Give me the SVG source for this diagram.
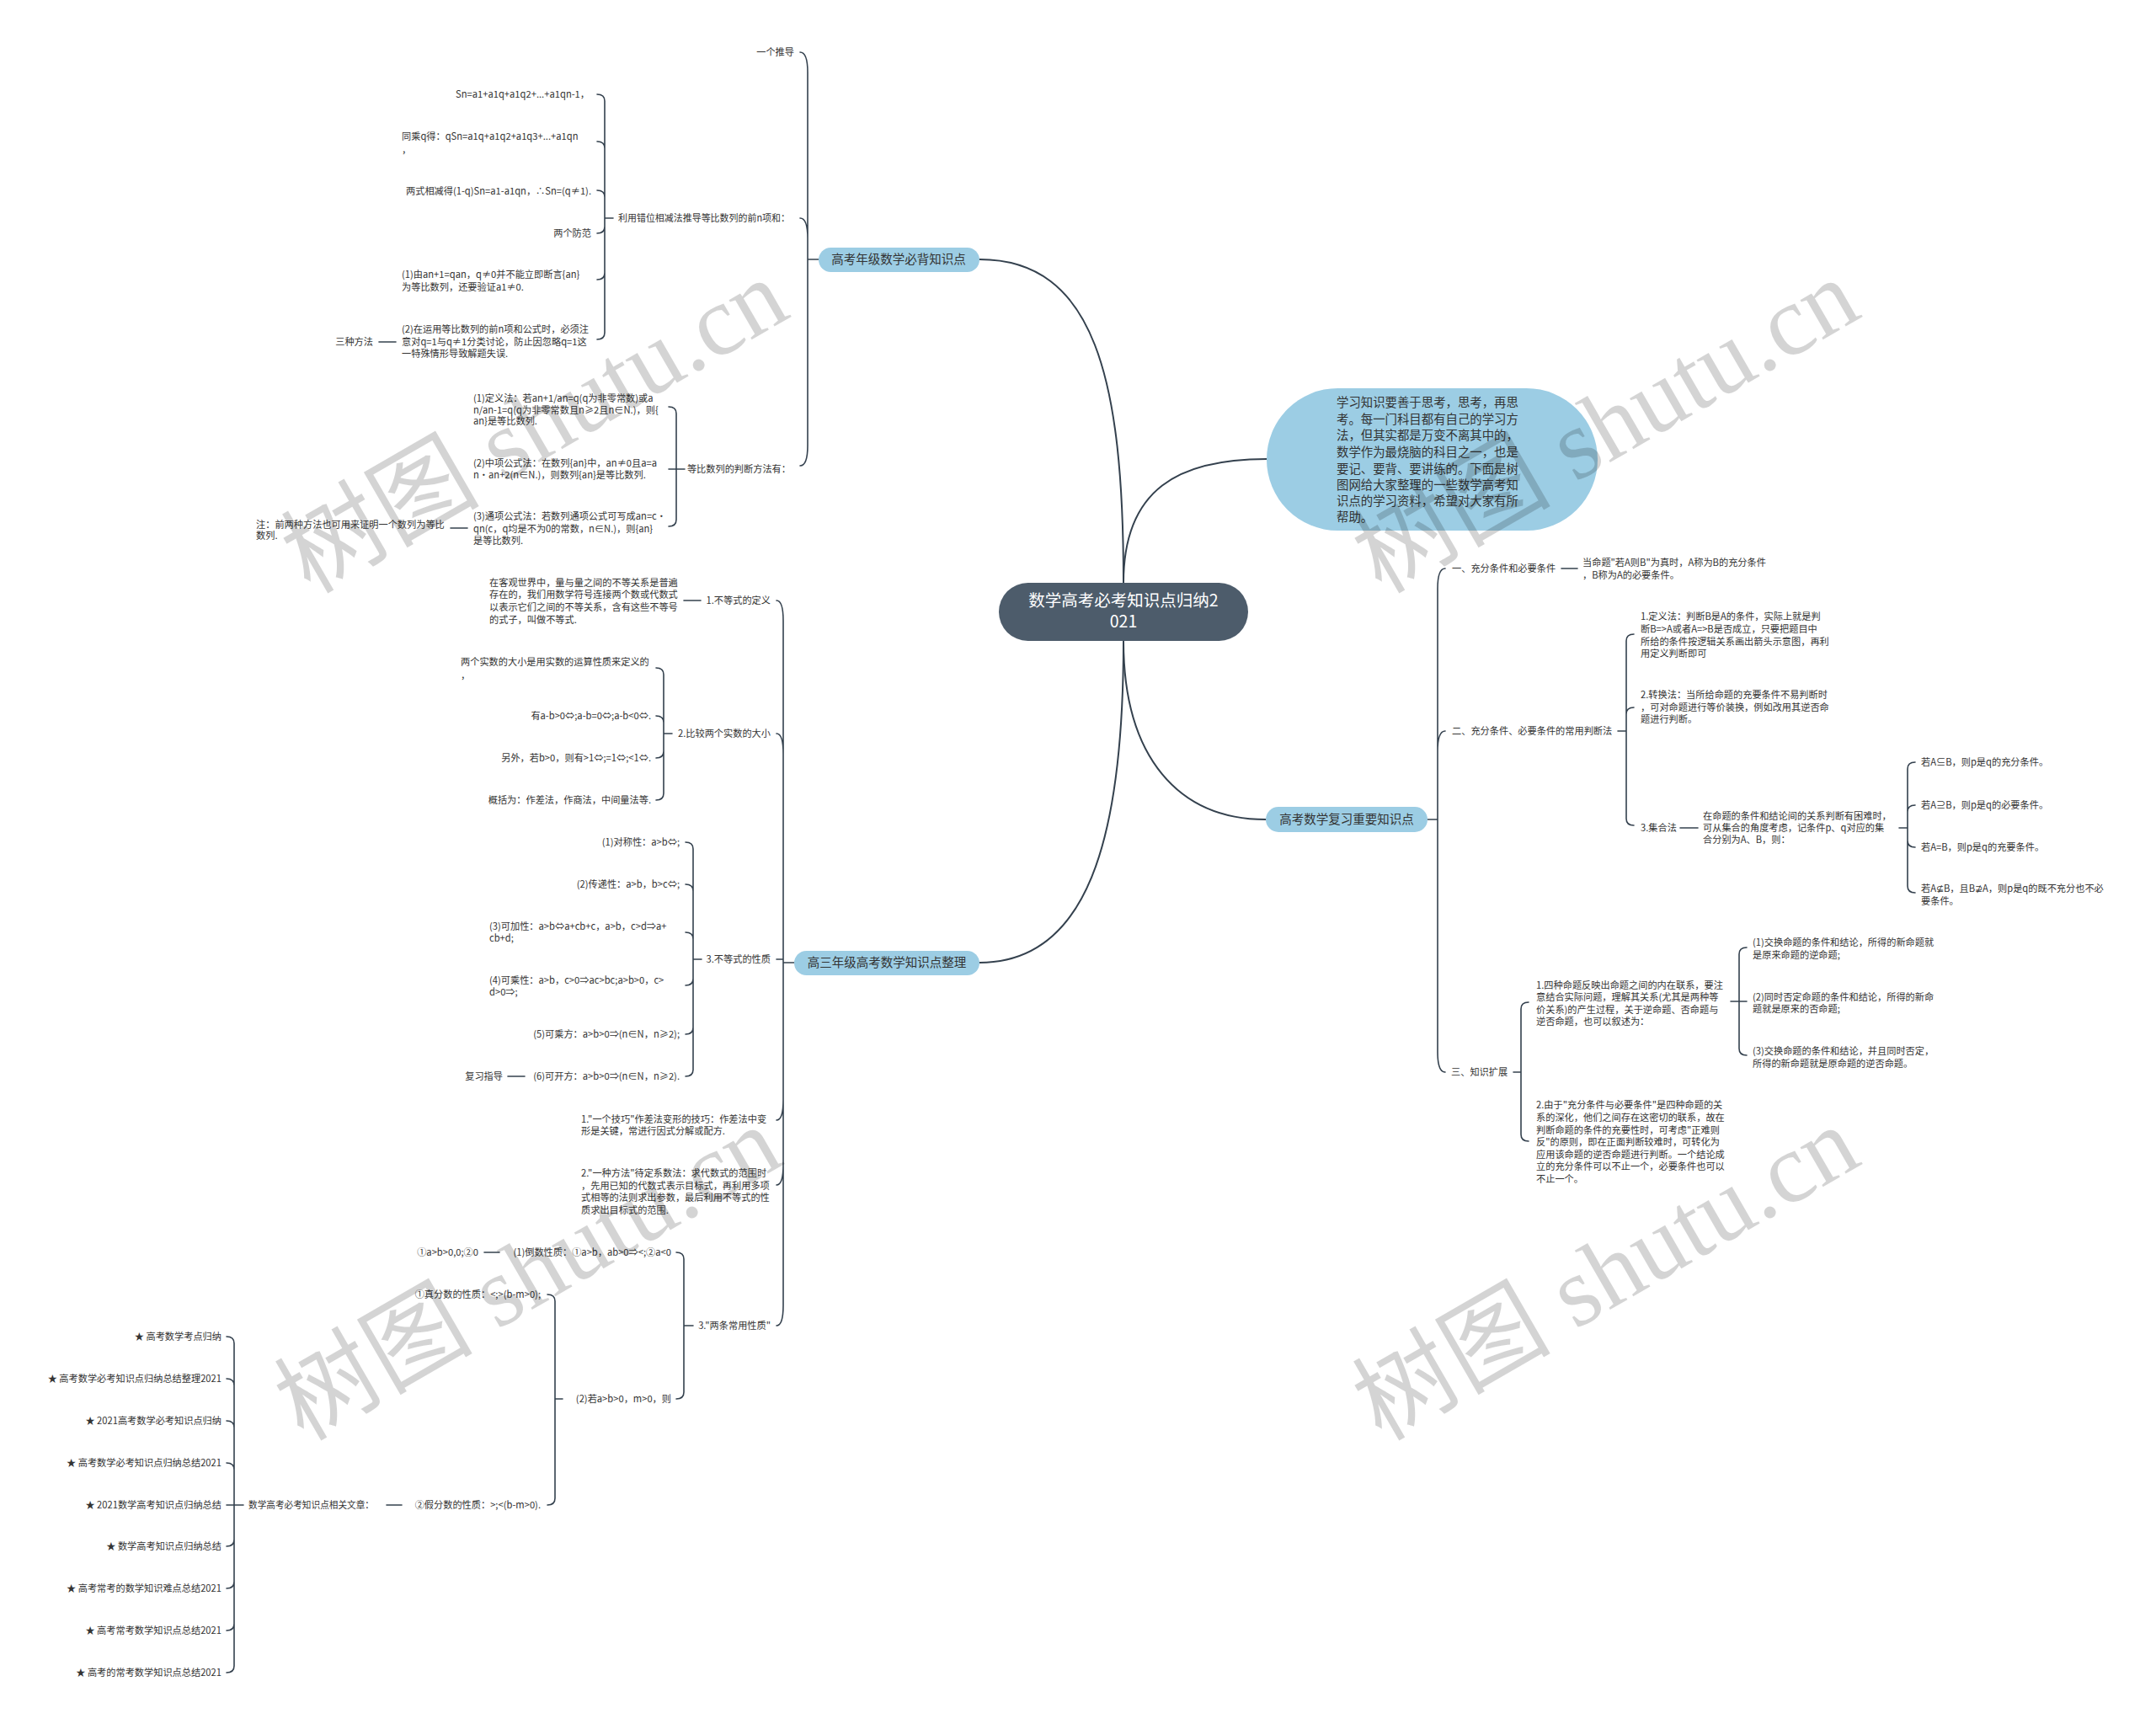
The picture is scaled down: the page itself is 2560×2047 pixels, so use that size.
<svg xmlns="http://www.w3.org/2000/svg" width="2560" height="2047" viewBox="0 0 2560 2047">
<style>
.t{font-family:"Noto Sans CJK SC","Noto Sans",sans-serif;font-size:11.2px;fill:#333}
.e{text-anchor:end}
.nt{font-family:"Noto Sans CJK SC","Noto Sans",sans-serif;font-size:14.5px;fill:#333;text-anchor:middle}
.c{fill:none;stroke:#34414e;stroke-width:1.6;stroke-linecap:round}
.m{fill:none;stroke:#34414e;stroke-width:2;stroke-linecap:round}
.b{fill:#9ccde4}
.wm{font-family:"Liberation Serif","Noto Sans CJK SC",serif;font-size:118px;fill:#000;fill-opacity:0.17}
</style>
<rect width="2560" height="2047" fill="#fff"/>
<g id="connectors">
<path class="m" d="M1163,308 C1300,308 1334,450 1334,692"/>
<path class="m" d="M1334,692 C1334,580 1400,545 1504,545"/>
<path class="m" d="M1334,761 C1334,1000 1290,1143 1163,1143"/>
<path class="m" d="M1334,761 C1334,900 1400,973 1503,973"/>
<path class="c" d="M972,308 H959 M959,308 V86 C959,70 956,62 950,62 M959,308 V283 C959,267 956,259 950,259 M959,308 V529 C959,545 956,553 950,553"/>
<path class="c" d="M728,259 H718 M718,259 V120 Q718,112 709,112 M718,259 V176 Q718,168 709,168 M718,259 V234 Q718,226 709,226 M718,259 V269 Q718,277 709,277 M718,259 V324 Q718,332 709,332 M718,259 V395 Q718,403 709,403"/>
<path class="c" d="M450,406 H470"/>
<path class="c" d="M813,557 H803 M803,557 V491 Q803,483 794,483 M803,557 H794 M803,557 V617 Q803,625 794,625"/>
<path class="c" d="M535,627 H555"/>
<path class="c" d="M943,1143 H930 M930,1143 V737 C930,721 927,713 922,713 M930,1143 V895 C930,879 927,871 922,871 M930,1143 V1139 H922 M930,1143 V1306 C930,1322 927,1330 922,1330 M930,1143 V1383 C930,1399 927,1407 922,1407 M930,1143 V1550 C930,1566 927,1574 922,1574"/>
<path class="c" d="M812,713 H832"/>
<path class="c" d="M798,871 H788 M788,871 V801 Q788,793 779,793 M788,871 V858 Q788,850 779,850 M788,871 V892 Q788,900 779,900 M788,871 V942 Q788,950 779,950"/>
<path class="c" d="M833,1139 H823 M823,1139 V1008 Q823,1000 814,1000 M823,1139 V1058 Q823,1050 814,1050 M823,1139 V1115 Q823,1107 814,1107 M823,1139 V1162 Q823,1170 814,1170 M823,1139 V1220 Q823,1228 814,1228 M823,1139 V1270 Q823,1278 814,1278"/>
<path class="c" d="M603,1278 H623"/>
<path class="c" d="M823,1574 H812 M812,1574 V1495 Q812,1487 803,1487 M812,1574 V1653 Q812,1661 803,1661"/>
<path class="c" d="M575,1487 H593"/>
<path class="c" d="M668,1661 H659 M659,1661 V1545 Q659,1537 650,1537 M659,1661 V1779 Q659,1787 650,1787"/>
<path class="c" d="M459,1787 H477"/>
<path class="c" d="M289,1787 H278 M278,1787 V1595 Q278,1587 269,1587 M278,1787 V1645 Q278,1637 269,1637 M278,1787 V1695 Q278,1687 269,1687 M278,1787 V1745 Q278,1737 269,1737 M278,1787 H269 M278,1787 V1828 Q278,1836 269,1836 M278,1787 V1878 Q278,1886 269,1886 M278,1787 V1928 Q278,1936 269,1936 M278,1787 V1978 Q278,1986 269,1986"/>
<path class="c" d="M1695,973 H1707 M1707,973 V699 C1707,683 1710,675 1716,675 M1707,973 V892 C1707,876 1710,868 1716,868 M1707,973 V1249 C1707,1265 1710,1273 1716,1273"/>
<path class="c" d="M1854,675 H1873"/>
<path class="c" d="M1921,868 H1931 M1931,868 V761 Q1931,753 1940,753 M1931,868 V848 Q1931,840 1940,840 M1931,868 V972 Q1931,980 1940,980"/>
<path class="c" d="M1995,983 H2016"/>
<path class="c" d="M2255,983 H2265 M2265,983 V913 Q2265,905 2274,905 M2265,983 V964 Q2265,956 2274,956 M2265,983 V998 Q2265,1006 2274,1006 M2265,983 V1052 Q2265,1060 2274,1060"/>
<path class="c" d="M1797,1273 H1806 M1806,1273 V1198 Q1806,1190 1815,1190 M1806,1273 V1347 Q1806,1355 1815,1355"/>
<path class="c" d="M2055,1189 H2065 M2065,1189 V1133 Q2065,1125 2074,1125 M2065,1189 H2074 M2065,1189 V1245 Q2065,1253 2074,1253"/>
</g>
<g id="root">
<rect x="1186" y="692" width="296" height="69" rx="34.5" fill="#4d5c6b"/>
<text font-family="Noto Sans CJK SC,sans-serif" font-size="19.5" fill="#fff" text-anchor="middle"><tspan x="1334" y="720">数学高考必考知识点归纳2</tspan><tspan x="1334" y="745">021</tspan></text>
</g>
<g id="intro">
<rect class="b" x="1504" y="461" width="393" height="169" rx="84.5"/>
<text class="t" style="font-size:14.4px"><tspan x="1587" y="483">学习知识要善于思考，思考，再思</tspan><tspan x="1587" y="503">考。每一门科目都有自己的学习方</tspan><tspan x="1587" y="522">法，但其实都是万变不离其中的，</tspan><tspan x="1587" y="542">数学作为最烧脑的科目之一，也是</tspan><tspan x="1587" y="562">要记、要背、要讲练的。下面是树</tspan><tspan x="1587" y="581">图网给大家整理的一些数学高考知</tspan><tspan x="1587" y="600">识点的学习资料，希望对大家有所</tspan><tspan x="1587" y="619">帮助。</tspan></text>
</g>
<g id="n1">
<rect class="b" x="972" y="294" width="191" height="29" rx="14.5"/>
<text class="nt" x="1067" y="313">高考年级数学必背知识点</text>
</g>
<g id="n1a"><text class="t e" x="943" y="66">一个推导</text></g>
<g id="n1b"><text class="t" x="734" y="263" textLength="204" lengthAdjust="spacingAndGlyphs">利用错位相减法推导等比数列的前n项和：</text></g>
<g id="n1b1"><text class="t e" x="700" y="116">Sn=a1+a1q+a1q2+...+a1qn-1，</text></g>
<g id="n1b2"><text class="t"><tspan x="477" y="166">同乘q得：qSn=a1q+a1q2+a1q3+...+a1qn</tspan><tspan x="477" y="182">，</tspan></text></g>
<g id="n1b3"><text class="t e" x="702" y="231">两式相减得(1-q)Sn=a1-a1qn，∴Sn=(q≠1).</text></g>
<g id="n1b4"><text class="t e" x="702" y="281">两个防范</text></g>
<g id="n1b5"><text class="t"><tspan x="477" y="330">(1)由an+1=qan，q≠0并不能立即断言{an}</tspan><tspan x="477" y="345">为等比数列，还要验证a1≠0.</tspan></text></g>
<g id="n1b6"><text class="t"><tspan x="477" y="395">(2)在运用等比数列的前n项和公式时，必须注</tspan><tspan x="477" y="410">意对q=1与q≠1分类讨论，防止因忽略q=1这</tspan><tspan x="477" y="424">一特殊情形导致解题失误.</tspan></text></g>
<g id="n1b6a"><text class="t e" x="443" y="410">三种方法</text></g>
<g id="n1c"><text class="t e" x="939" y="561">等比数列的判断方法有：</text></g>
<g id="n1c1"><text class="t"><tspan x="562" y="477">(1)定义法：若an+1/an=q(q为非零常数)或a</tspan><tspan x="562" y="491">n/an-1=q(q为非零常数且n≥2且n∈N.)，则{</tspan><tspan x="562" y="504">an}是等比数列.</tspan></text></g>
<g id="n1c2"><text class="t"><tspan x="562" y="554">(2)中项公式法：在数列{an}中，an≠0且a=a</tspan><tspan x="562" y="568">n·an+2(n∈N.)，则数列{an}是等比数列.</tspan></text></g>
<g id="n1c3"><text class="t"><tspan x="562" y="617">(3)通项公式法：若数列通项公式可写成an=c·</tspan><tspan x="562" y="632">qn(c，q均是不为0的常数，n∈N.)，则{an}</tspan><tspan x="562" y="646">是等比数列.</tspan></text></g>
<g id="n1c3a"><text class="t"><tspan x="304" y="627">注：前两种方法也可用来证明一个数列为等比</tspan><tspan x="304" y="640">数列.</tspan></text></g>
<g id="n2">
<rect class="b" x="943" y="1129" width="220" height="29" rx="14.5"/>
<text class="nt" x="1053" y="1148">高三年级高考数学知识点整理</text>
</g>
<g id="n2a"><text class="t e" x="915" y="717">1.不等式的定义</text></g>
<g id="n2a1"><text class="t"><tspan x="581" y="696">在客观世界中，量与量之间的不等关系是普遍</tspan><tspan x="581" y="710">存在的，我们用数学符号连接两个数或代数式</tspan><tspan x="581" y="725">以表示它们之间的不等关系，含有这些不等号</tspan><tspan x="581" y="740">的式子，叫做不等式.</tspan></text></g>
<g id="n2b"><text class="t e" x="915" y="875">2.比较两个实数的大小</text></g>
<g id="n2b1"><text class="t"><tspan x="547" y="790">两个实数的大小是用实数的运算性质来定义的</tspan><tspan x="547" y="806">，</tspan></text></g>
<g id="n2b2"><text class="t e" x="773" y="854">有a-b&gt;0⇔;a-b=0⇔;a-b&lt;0⇔.</text></g>
<g id="n2b3"><text class="t e" x="773" y="904">另外，若b&gt;0，则有&gt;1⇔;=1⇔;&lt;1⇔.</text></g>
<g id="n2b4"><text class="t e" x="773" y="954">概括为：作差法，作商法，中间量法等.</text></g>
<g id="n2c"><text class="t e" x="915" y="1143">3.不等式的性质</text></g>
<g id="n2c1"><text class="t e" x="807" y="1004">(1)对称性：a&gt;b⇔;</text></g>
<g id="n2c2"><text class="t e" x="807" y="1054">(2)传递性：a&gt;b，b&gt;c⇔;</text></g>
<g id="n2c3"><text class="t"><tspan x="581" y="1104">(3)可加性：a&gt;b⇔a+cb+c，a&gt;b，c&gt;d⇒a+</tspan><tspan x="581" y="1118">cb+d;</tspan></text></g>
<g id="n2c4"><text class="t"><tspan x="581" y="1168">(4)可乘性：a&gt;b，c&gt;0⇒ac&gt;bc;a&gt;b&gt;0，c&gt;</tspan><tspan x="581" y="1182">d&gt;0⇒;</tspan></text></g>
<g id="n2c5"><text class="t e" x="807" y="1232">(5)可乘方：a&gt;b&gt;0⇒(n∈N，n≥2);</text></g>
<g id="n2c6"><text class="t e" x="807" y="1282">(6)可开方：a&gt;b&gt;0⇒(n∈N，n≥2).</text></g>
<g id="n2c6a"><text class="t e" x="597" y="1282">复习指导</text></g>
<g id="n2d"><text class="t"><tspan x="690" y="1333">1."一个技巧"作差法变形的技巧：作差法中变</tspan><tspan x="690" y="1347">形是关键，常进行因式分解或配方.</tspan></text></g>
<g id="n2e"><text class="t"><tspan x="690" y="1397">2."一种方法"待定系数法：求代数式的范围时</tspan><tspan x="690" y="1412">，先用已知的代数式表示目标式，再利用多项</tspan><tspan x="690" y="1426">式相等的法则求出参数，最后利用不等式的性</tspan><tspan x="690" y="1441">质求出目标式的范围.</tspan></text></g>
<g id="n2f"><text class="t e" x="915" y="1578">3."两条常用性质"</text></g>
<g id="n2f1"><text class="t e" x="797" y="1491">(1)倒数性质：①a&gt;b，ab&gt;0⇒&lt;;②a&lt;0</text></g>
<g id="n2f1a"><text class="t e" x="568" y="1491">①a&gt;b&gt;0,0;②0</text></g>
<g id="n2f2"><text class="t e" x="797" y="1665">(2)若a&gt;b&gt;0，m&gt;0，则</text></g>
<g id="n2f2a"><text class="t e" x="642" y="1541">①真分数的性质：&lt;;&gt;(b-m&gt;0);</text></g>
<g id="n2f2b"><text class="t e" x="642" y="1791">②假分数的性质：&gt;;&lt;(b-m&gt;0).</text></g>
<g id="n2f2b1"><text class="t" x="295" y="1791" textLength="149" lengthAdjust="spacingAndGlyphs">数学高考必考知识点相关文章：</text></g>
<g id="links">
<text class="t e" x="263" y="1591">★ 高考数学考点归纳</text>
<text class="t e" x="263" y="1641">★ 高考数学必考知识点归纳总结整理2021</text>
<text class="t e" x="263" y="1691">★ 2021高考数学必考知识点归纳</text>
<text class="t e" x="263" y="1741">★ 高考数学必考知识点归纳总结2021</text>
<text class="t e" x="263" y="1791">★ 2021数学高考知识点归纳总结</text>
<text class="t e" x="263" y="1840">★ 数学高考知识点归纳总结</text>
<text class="t e" x="263" y="1890">★ 高考常考的数学知识难点总结2021</text>
<text class="t e" x="263" y="1940">★ 高考常考数学知识点总结2021</text>
<text class="t e" x="263" y="1990">★ 高考的常考数学知识点总结2021</text>
</g>
<g id="n3">
<rect class="b" x="1503" y="958" width="192" height="30" rx="15"/>
<text class="nt" x="1599" y="978">高考数学复习重要知识点</text>
</g>
<g id="n3a"><text class="t" x="1724" y="679">一、充分条件和必要条件</text></g>
<g id="n3a1"><text class="t"><tspan x="1879" y="672">当命题"若A则B"为真时，A称为B的充分条件</tspan><tspan x="1879" y="687">，B称为A的必要条件。</tspan></text></g>
<g id="n3b"><text class="t" x="1724" y="872">二、充分条件、必要条件的常用判断法</text></g>
<g id="n3b1"><text class="t"><tspan x="1948" y="736">1.定义法：判断B是A的条件，实际上就是判</tspan><tspan x="1948" y="751">断B=&gt;A或者A=&gt;B是否成立，只要把题目中</tspan><tspan x="1948" y="766">所给的条件按逻辑关系画出箭头示意图，再利</tspan><tspan x="1948" y="780">用定义判断即可</tspan></text></g>
<g id="n3b2"><text class="t"><tspan x="1948" y="829">2.转换法：当所给命题的充要条件不易判断时</tspan><tspan x="1948" y="844">，可对命题进行等价装换，例如改用其逆否命</tspan><tspan x="1948" y="858">题进行判断。</tspan></text></g>
<g id="n3b3"><text class="t" x="1948" y="987">3.集合法</text></g>
<g id="n3b3a"><text class="t"><tspan x="2022" y="973">在命题的条件和结论间的关系判断有困难时，</tspan><tspan x="2022" y="987">可从集合的角度考虑，记条件p、q对应的集</tspan><tspan x="2022" y="1001">合分别为A、B，则：</tspan></text></g>
<g id="n3b3a1"><text class="t" x="2281" y="909">若A⊆B，则p是q的充分条件。</text></g>
<g id="n3b3a2"><text class="t" x="2281" y="960">若A⊇B，则p是q的必要条件。</text></g>
<g id="n3b3a3"><text class="t" x="2281" y="1010">若A=B，则p是q的充要条件。</text></g>
<g id="n3b3a4"><text class="t"><tspan x="2281" y="1059">若A⊈B，且B⊉A，则p是q的既不充分也不必</tspan><tspan x="2281" y="1074">要条件。</tspan></text></g>
<g id="n3c"><text class="t" x="1723" y="1277">三、知识扩展</text></g>
<g id="n3c1"><text class="t"><tspan x="1824" y="1174">1.四种命题反映出命题之间的内在联系，要注</tspan><tspan x="1824" y="1188">意结合实际问题，理解其关系(尤其是两种等</tspan><tspan x="1824" y="1203">价关系)的产生过程，关于逆命题、否命题与</tspan><tspan x="1824" y="1217">逆否命题，也可以叙述为：</tspan></text></g>
<g id="n3c1a"><text class="t"><tspan x="2081" y="1123">(1)交换命题的条件和结论，所得的新命题就</tspan><tspan x="2081" y="1138">是原来命题的逆命题;</tspan></text></g>
<g id="n3c1b"><text class="t"><tspan x="2081" y="1188">(2)同时否定命题的条件和结论，所得的新命</tspan><tspan x="2081" y="1202">题就是原来的否命题;</tspan></text></g>
<g id="n3c1c"><text class="t"><tspan x="2081" y="1252">(3)交换命题的条件和结论，并且同时否定，</tspan><tspan x="2081" y="1267">所得的新命题就是原命题的逆否命题。</tspan></text></g>
<g id="n3c2"><text class="t"><tspan x="1824" y="1316">2.由于"充分条件与必要条件"是四种命题的关</tspan><tspan x="1824" y="1331">系的深化，他们之间存在这密切的联系，故在</tspan><tspan x="1824" y="1346">判断命题的条件的充要性时，可考虑"正难则</tspan><tspan x="1824" y="1360">反"的原则，即在正面判断较难时，可转化为</tspan><tspan x="1824" y="1375">应用该命题的逆否命题进行判断。一个结论成</tspan><tspan x="1824" y="1389">立的充分条件可以不止一个，必要条件也可以</tspan><tspan x="1824" y="1404">不止一个。</tspan></text></g>
<g id="watermark">
<text class="wm" transform="translate(368,706) rotate(-30)">树图 shutu.cn</text>
<text class="wm" transform="translate(1640,706) rotate(-30)">树图 shutu.cn</text>
<text class="wm" transform="translate(360,1712) rotate(-30)">树图 shutu.cn</text>
<text class="wm" transform="translate(1640,1712) rotate(-30)">树图 shutu.cn</text>
</g>
</svg>
